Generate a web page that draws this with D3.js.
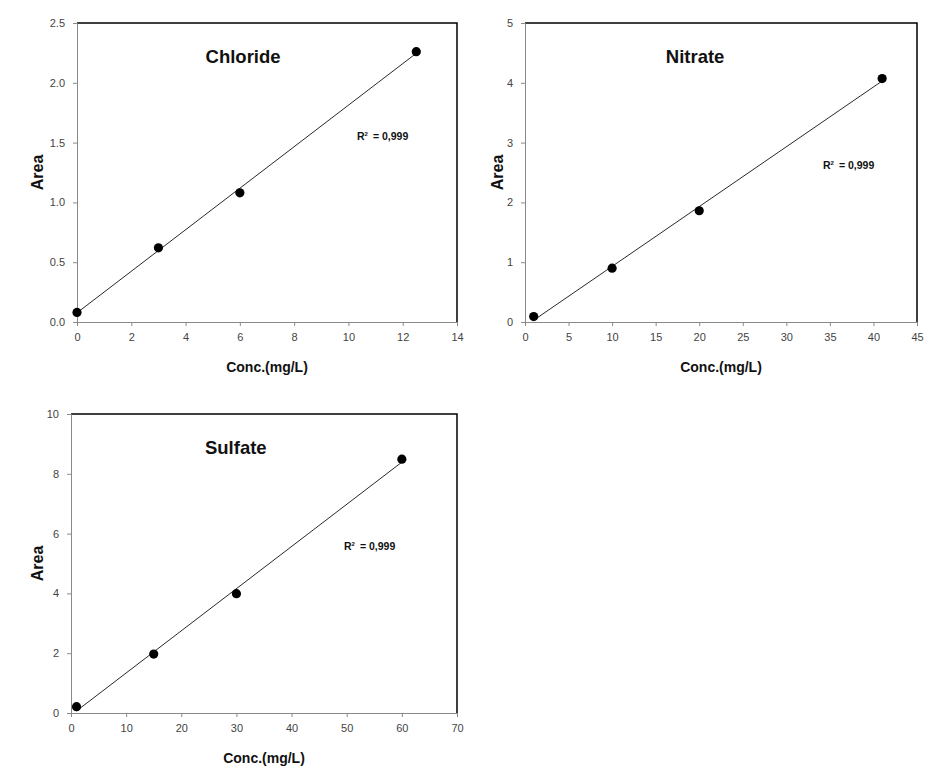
<!DOCTYPE html>
<html>
<head>
<meta charset="utf-8">
<script src="https://cdn.jsdelivr.net/npm/d3@7"></script>
<style>
  html, body { margin: 0; padding: 0; background: #fff; }
  svg { display: block; }
  .tick text { font-family: "Liberation Sans", Arial, sans-serif; font-size: 11px; fill: #444; }
</style>
</head>
<body>
<svg id="chart" width="927" height="770"></svg>
<script>
// ---- Data ----
const panelNames = ["Chloride", "Nitrate", "Sulfate"];

const chlorideConc = [0, 3, 6, 12.5];
const chlorideArea = [0.08, 0.62, 1.08, 2.26];

const nitrateConc = [1, 10, 20, 41];
const nitrateArea = [0.09, 0.90, 1.86, 4.07];

const sulfateConc = [1, 15, 30, 60];
const sulfateArea = [0.21, 1.97, 3.99, 8.49];

const chlorideXTicks = [0, 2, 4, 6, 8, 10, 12, 14];
const chlorideYTicks = [0.0, 0.5, 1.0, 1.5, 2.0, 2.5];
const nitrateXTicks = [0, 5, 10, 15, 20, 25, 30, 35, 40, 45];
const nitrateYTicks = [0, 1, 2, 3, 4, 5];
const sulfateXTicks = [0, 10, 20, 30, 40, 50, 60, 70];
const sulfateYTicks = [0, 2, 4, 6, 8, 10];

const r2Labels = ["0,999", "0,999", "0,999"];
const xAxisTitle = "Conc.(mg/L)";
const yAxisTitle = "Area";

// ---- Layout (positions only) ----
const panels = [
  { name: panelNames[0], xs: chlorideConc, ys: chlorideArea, xTicks: chlorideXTicks, yTicks: chlorideYTicks,
    yFmt: d3.format(".1f"), left: 77, right: 457, top: 23, bottom: 322,
    titleFrac: 0.437, r2x: 357, r2y: 140, areaX: 43 },
  { name: panelNames[1], xs: nitrateConc, ys: nitrateArea, xTicks: nitrateXTicks, yTicks: nitrateYTicks,
    yFmt: d3.format("d"), left: 525, right: 917, top: 23, bottom: 322,
    titleFrac: 0.434, r2x: 823, r2y: 169, areaX: 503 },
  { name: panelNames[2], xs: sulfateConc, ys: sulfateArea, xTicks: sulfateXTicks, yTicks: sulfateYTicks,
    yFmt: d3.format("d"), left: 71, right: 457, top: 414, bottom: 713,
    titleFrac: 0.427, r2x: 344, r2y: 550, areaX: 43 }
];

const svg = d3.select("#chart");
const font = "'Liberation Sans', Arial, sans-serif";

panels.forEach((p, i) => {
  const x = d3.scaleLinear().domain([p.xTicks[0], p.xTicks[p.xTicks.length - 1]]).range([p.left, p.right]);
  const y = d3.scaleLinear().domain([p.yTicks[0], p.yTicks[p.yTicks.length - 1]]).range([p.bottom, p.top]);
  const g = svg.append("g");

  // top & right frame (black)
  g.append("path")
    .attr("d", `M${p.left},${p.top}H${p.right}V${p.bottom}`)
    .attr("fill", "none").attr("stroke", "#000").attr("stroke-width", 1.5);

  // axes
  const xAxis = g.append("g").attr("transform", `translate(0,${p.bottom})`)
    .call(d3.axisBottom(x).tickValues(p.xTicks).tickFormat(d3.format("d")).tickSize(4).tickPadding(7));
  const yAxis = g.append("g").attr("transform", `translate(${p.left},0)`)
    .call(d3.axisLeft(y).tickValues(p.yTicks).tickFormat(p.yFmt).tickSize(4).tickPadding(8));
  [xAxis, yAxis].forEach(a => {
    a.select(".domain").attr("stroke", "#8a8a8a").attr("stroke-width", 1);
    a.selectAll(".tick line").attr("stroke", "#8a8a8a");
  });

  // regression line computed from the data
  const mx = d3.mean(p.xs), my = d3.mean(p.ys);
  let sxy = 0, sxx = 0;
  p.xs.forEach((xv, k) => { sxy += (xv - mx) * (p.ys[k] - my); sxx += (xv - mx) * (xv - mx); });
  const slope = sxy / sxx, icpt = my - slope * mx;
  const x0 = d3.min(p.xs), x1 = d3.max(p.xs);
  g.append("line")
    .attr("x1", x(x0)).attr("y1", y(icpt + slope * x0))
    .attr("x2", x(x1)).attr("y2", y(icpt + slope * x1))
    .attr("stroke", "#111").attr("stroke-width", 0.9);

  // points
  g.selectAll("circle.pt").data(p.xs.map((xv, k) => [xv, p.ys[k]])).enter()
    .append("circle").attr("class", "pt")
    .attr("cx", d => x(d[0])).attr("cy", d => y(d[1])).attr("r", 4.6)
    .attr("fill", "#000");

  // panel title
  g.append("text")
    .attr("x", p.left + p.titleFrac * (p.right - p.left)).attr("y", p.top + 40)
    .attr("text-anchor", "middle")
    .attr("font-family", font).attr("font-weight", "bold").attr("font-size", 18.5)
    .attr("fill", "#111").text(p.name);

  // R^2 annotation
  const r2 = g.append("text")
    .attr("x", p.r2x).attr("y", p.r2y)
    .attr("font-family", font).attr("font-weight", "bold").attr("font-size", 10.5)
    .attr("fill", "#111");
  r2.append("tspan").text("R");
  r2.append("tspan").attr("font-size", 6).attr("dy", -4).text("2");
  r2.append("tspan").attr("dy", 4).attr("dx", 5).text("= " + r2Labels[i]);

  // axis titles
  g.append("text")
    .attr("x", (p.left + p.right) / 2).attr("y", p.bottom + 50)
    .attr("text-anchor", "middle")
    .attr("font-family", font).attr("font-weight", "bold").attr("font-size", 14)
    .attr("fill", "#111").text(xAxisTitle);

  g.append("text")
    .attr("transform", `translate(${p.areaX},${(p.top + p.bottom) / 2}) rotate(-90)`)
    .attr("text-anchor", "middle")
    .attr("font-family", font).attr("font-weight", "bold").attr("font-size", 16)
    .attr("fill", "#111").text(yAxisTitle);
});
</script>
</body>
</html>
